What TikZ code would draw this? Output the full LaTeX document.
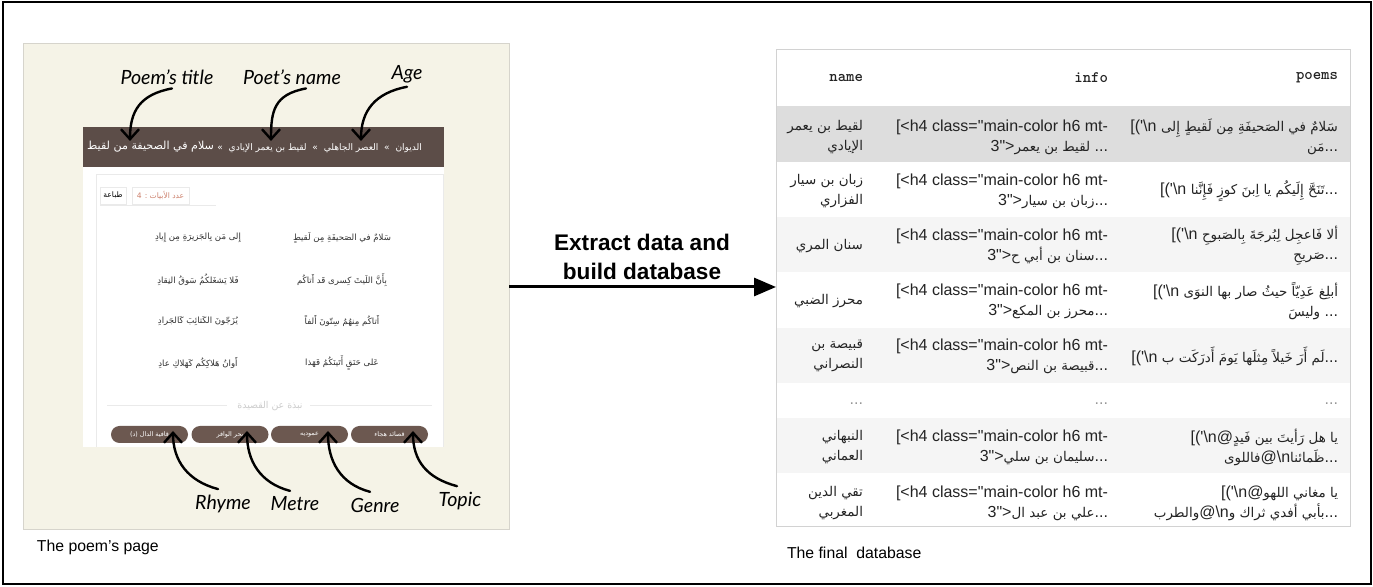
\documentclass[tikz,border=0pt]{standalone}
\usepackage{fontspec}
\setmainfont{Liberation Sans}
\newfontfamily\plainfont{Liberation Sans}
\newfontfamily\arabicfont[Script=Arabic,Scale=0.84]{DejaVu Sans}
\newfontfamily\handfont{Lato}
\TeXXeTstate=1
\usetikzlibrary{arrows.meta}

% colours
\definecolor{paper}{RGB}{245,243,231}
\definecolor{paperedge}{RGB}{214,212,204}
\definecolor{bar}{RGB}{92,77,72}
\definecolor{btn}{RGB}{108,88,80}
\definecolor{versecol}{RGB}{50,50,50}
\definecolor{faint}{RGB}{234,234,234}
\definecolor{sepcol}{RGB}{205,205,205}
\definecolor{tabred}{RGB}{205,130,110}
\definecolor{rowhi}{RGB}{221,221,221}
\definecolor{rowalt}{RGB}{245,245,245}
\definecolor{tblline}{RGB}{210,210,210}
\definecolor{celltxt}{RGB}{35,35,35}
\definecolor{dotcol}{RGB}{150,150,150}

\newcommand{\fsz}[2]{\fontsize{#1}{#2}\selectfont}
\newcommand{\bs}{\textbackslash}
\newcommand{\lopen}{[('\bs n}

\tikzset{
  every node/.style={inner sep=0pt, outer sep=0pt},
  handlabel/.style={font=\handfont\itshape\fsz{9.8}{11}, text=black},
  handarrow/.style={line width=1.2pt, line cap=round, -{Straight Barb[length=5pt,width=9pt]}},
  verseline/.style={font=\arabicfont\fsz{5.1}{6}, text=versecol},
  pill/.style={fill=btn, rounded corners=4.25pt, minimum width=38.5pt, minimum height=8.5pt, text=white, font=\arabicfont\fsz{3.8}{5}},
  tabbox/.style={draw=faint, line width=0.4pt, minimum height=8.5pt, anchor=north west, font=\arabicfont\fsz{4.5}{5}},
  headcell/.style={anchor=east, font=\ttfamily\bfseries\fsz{8}{9}, text=celltxt},
  cell/.style={anchor=east, align=right, font=\plainfont\fsz{8}{10}, text=celltxt},
  dotcell/.style={anchor=east, font=\plainfont\fsz{8}{10}, text=dotcol},
  caption/.style={anchor=west, font=\plainfont\fsz{7.9}{9}},
}

\begin{document}
\begin{tikzpicture}[x=0.5pt, y=-0.5pt]
\useasboundingbox (0,0) rectangle (1373,587);
\draw[line width=1pt] (2.5,2.5) rectangle (1370.5,584.5);

% ---------- the web page ----------
\node[draw=paperedge, fill=paper, line width=0.5pt, minimum width=243pt, minimum height=243pt, anchor=north west] (page) at (23,44) {};
\node[fill=bar, minimum width=180.5pt, minimum height=20pt, anchor=north west] (bar) at (83,127) {};
\fill[white] (83,167) rectangle (444,447);
\draw[faint, line width=0.5pt] (96,175) -- (443,175) -- (443,447) (96,447) -- (96,175);

\node[anchor=east, text=white, font=\arabicfont\fsz{6.6}{8}] (ptitle) at (214,147) {\beginR سلام في الصحيفة من لقيط\endR};
\node[anchor=east, text=white, font=\arabicfont\fsz{5.4}{6}] (crumb) at (422,148)
  {\beginR الديوان \ » \ العصر الجاهلي \ » \ لقيط بن يعمر الإيادي \ »\endR};

\node[tabbox, minimum width=13pt] (print) at (100,187) {\beginR طباعة\endR};
\node[tabbox, minimum width=28.5pt, text=tabred] (count) at (132,187) {\beginR عدد الأبيات : 4\endR};
\draw[faint, line width=0.5pt] (100,206) -- (216,206);

% verses: first half on the right, second half on the left
\node[verseline] (v1a) at (342,238) {\beginR سَلامٌ في الصَحيفَةِ مِن لَقيطٍ\endR};
\node[verseline] (v1b) at (198,238) {\beginR إِلى مَن بِالجَزيرَةِ مِن إِيادِ\endR};
\node[verseline] (v2a) at (342,280) {\beginR بِأَنَّ اللَيثَ كِسرى قَد أَتاكُم\endR};
\node[verseline] (v2b) at (198,280) {\beginR فَلا يَشغَلكُمُ سَوقُ النِقادِ\endR};
\node[verseline] (v3a) at (342,321) {\beginR أَتاكُم مِنهُمُ سِتّونَ أَلفاً\endR};
\node[verseline] (v3b) at (198,321) {\beginR يُزَجّونَ الكَتائِبَ كَالجَرادِ\endR};
\node[verseline] (v4a) at (342,363) {\beginR عَلى حَنَقٍ أَتَينَكُمُ فَهَذا\endR};
\node[verseline] (v4b) at (198,363) {\beginR أَوانُ هَلاكِكُم كَهَلاكِ عادِ\endR};

\node[text=sepcol, font=\arabicfont\fsz{5.6}{6}] (about) at (270,406) {\beginR نبذة عن القصيدة\endR};
\draw[faint, line width=0.5pt] (107,406) -- (227,406) (310,406) -- (432,406);

\node[pill] (b1) at (149.5,434.5) {\beginR قافية الدال (د)\endR};
\node[pill] (b2) at (230,434.5) {\beginR بحر الوافر\endR};
\node[pill] (b3) at (309.5,434.5) {\beginR عموديه\endR};
\node[pill] (b4) at (389.5,434.5) {\beginR قصائد هجاء\endR};

% hand-written call-outs
\node[handlabel] (lTitle) at (167,77) {Poem’s title};
\node[handlabel] (lPoet) at (292,77) {Poet’s name};
\node[handlabel] (lAge) at (407,74) {Age};
\coordinate (tTitle) at (130,141);
\coordinate (tPoet) at (271,141);
\coordinate (tAge) at (361,141);
\draw[handarrow] ([xshift=2.5pt,yshift=-2pt]lTitle.south) .. controls +(-32,6) and +(0,-30) .. (tTitle);
\draw[handarrow] ([xshift=7pt,yshift=-2pt]lPoet.south) .. controls +(-32,6) and +(0,-30) .. (tPoet);
\draw[handarrow] ([yshift=-2pt]lAge.south) .. controls +(-32,6) and +(0,-30) .. (tAge);

\node[handlabel] (lRhyme) at (223,504) {Rhyme};
\node[handlabel] (lMetre) at (295,504) {Metre};
\node[handlabel] (lGenre) at (375,505) {Genre};
\node[handlabel] (lTopic) at (460,501) {Topic};
\coordinate (tRhyme) at (173,431);
\coordinate (tMetre) at (247,431);
\coordinate (tGenre) at (328,431);
\coordinate (tTopic) at (413,431);
\draw[handarrow] ([xshift=-2.5pt,yshift=3pt]lRhyme.north) .. controls +(-30,-8) and +(0,30) .. (tRhyme);
\draw[handarrow] ([xshift=-2.5pt,yshift=3pt]lMetre.north) .. controls +(-30,-8) and +(0,30) .. (tMetre);
\draw[handarrow] ([xshift=-2.5pt,yshift=3pt]lGenre.north) .. controls +(-30,-8) and +(0,30) .. (tGenre);
\draw[handarrow] ([xshift=-1.5pt,yshift=3pt]lTopic.north) .. controls +(-30,-8) and +(0,30) .. (tTopic);

\node[caption] (cap1) at (37,547) {The poem’s page};

% ---------- the table ----------
\fill[rowhi] (776,106) rectangle (1350,162);
\fill[rowalt] (776,217) rectangle (1350,272);
\fill[rowalt] (776,328) rectangle (1350,383);
\fill[rowalt] (776,418) rectangle (1350,473);
\node[draw=tblline, line width=0.5pt, minimum width=287pt, minimum height=238.5pt, anchor=north west] (table) at (776,50) {};

\node[headcell] (hName) at (863,78) {name};
\node[headcell] (hInfo) at (1108,78) {info};
\node[headcell] (hPoems) at (1338,78) {poems};

% names
\node[cell] (n1) at (863,137) {{\arabicfont\beginR لقيط بن يعمر\endR}\\{\arabicfont\beginR الإيادي\endR}};
\node[cell] (n2) at (863,191) {{\arabicfont\beginR زبان بن سيار\endR}\\{\arabicfont\beginR الفزاري\endR}};
\node[cell] (n3) at (863,246) {{\arabicfont\beginR سنان المري\endR}};
\node[cell] (n4) at (863,301) {{\arabicfont\beginR محرز الضبي\endR}};
\node[cell] (n5) at (863,356) {{\arabicfont\beginR قبيصة بن\endR}\\{\arabicfont\beginR النصراني\endR}};
\node[dotcell] (n6) at (863,404) {...};
\node[cell] (n7) at (863,447) {{\arabicfont\beginR النبهاني\endR}\\{\arabicfont\beginR العماني\endR}};
\node[cell] (n8) at (863,503) {{\arabicfont\beginR تقي الدين\endR}\\{\arabicfont\beginR المغربي\endR}};

% info
\node[cell] (i1) at (1108,137) {[<h4 class="main-color h6 mt-\\3">{\arabicfont\beginR لقيط بن يعمر\endR} ...};
\node[cell] (i2) at (1108,191) {[<h4 class="main-color h6 mt-\\3">{\arabicfont\beginR زبان بن سيار\endR}...};
\node[cell] (i3) at (1108,246) {[<h4 class="main-color h6 mt-\\3">{\arabicfont\beginR سنان بن أبي ح\endR}...};
\node[cell] (i4) at (1108,301) {[<h4 class="main-color h6 mt-\\3">{\arabicfont\beginR محرز بن المكع\endR}...};
\node[cell] (i5) at (1108,356) {[<h4 class="main-color h6 mt-\\3">{\arabicfont\beginR قبيصة بن النص\endR}...};
\node[dotcell] (i6) at (1108,404) {...};
\node[cell] (i7) at (1108,447) {[<h4 class="main-color h6 mt-\\3">{\arabicfont\beginR سليمان بن سلي\endR}...};
\node[cell] (i8) at (1108,503) {[<h4 class="main-color h6 mt-\\3">{\arabicfont\beginR علي بن عبد ال\endR}...};

% poems
\node[cell] (p1) at (1338,137) {\lopen\ {\arabicfont\beginR سَلامٌ في الصَحيفَةِ مِن لَقيطٍ إِلى\endR}\\{\arabicfont\beginR مَن\endR}...};
\node[cell] (p2) at (1338,191) {\lopen\ {\arabicfont\beginR تَنَحَّ إِلَيكُم يا اِبنَ كوزٍ فَإِنَّنا\endR}...};
\node[cell] (p3) at (1338,246) {\lopen\ {\arabicfont\beginR ألا فَاعجِل لِبُرجَةَ بِالصَبوحِ\endR}\\{\arabicfont\beginR صَريحِ\endR}...};
\node[cell] (p4) at (1338,301) {\lopen\ {\arabicfont\beginR أبلِغ عَدِيّاً حيثُ صار بها النوَى\endR}\\{\arabicfont\beginR وليسَ\endR} ...};
\node[cell] (p5) at (1338,356) {\lopen\ {\arabicfont\beginR لَم أَرَ خَيلاً مِثلَها يَومَ أَدرَكَت ب\endR}...};
\node[dotcell] (p6) at (1338,404) {...};
\node[cell] (p7) at (1338,447) {\lopen@{\arabicfont\beginR يا هل رَأيتَ بين فَيدٍ\endR}\\{\arabicfont\beginR فاللوى\endR}@\bs n{\arabicfont\beginR ظَمائنا\endR}...};
\node[cell] (p8) at (1338,503) {\lopen@{\arabicfont\beginR يا مغاني اللهو\endR}\\{\arabicfont\beginR والطرب\endR}@\bs n{\arabicfont\beginR بأبي أفدي ثراك و\endR}...};

\node[caption] (cap2) at (787,553) {The final\ \ database};

% ---------- the step between them ----------
\draw[line width=1.5pt, -{Triangle[length=11pt,width=9pt]}] (page.east) -- (page.east -| table.west);
\node[font=\bfseries\fsz{11.3}{14.5}, align=center] (step) at (642,257) {Extract data and\\build database};
\end{tikzpicture}
\end{document}
